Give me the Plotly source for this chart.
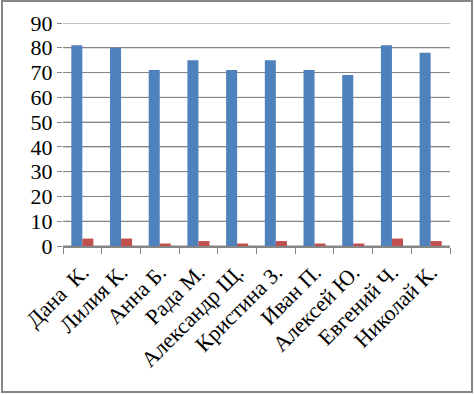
import plotly.graph_objects as go

names = ["Дана  К.", "Лилия К.", "Анна Б.", "Рада М.", "Александр Щ.", "Кристина З.",
         "Иван П.", "Алексей Ю.", "Евгений Ч.", "Николай К."]
series1 = [81, 80, 71, 75, 71, 75, 71, 69, 81, 78]
series2 = [3, 3, 1, 2, 1, 2, 1, 1, 3, 2]
yticks = [0, 10, 20, 30, 40, 50, 60, 70, 80, 90]

W, H = 475, 395
L, R, T, B = 63, 25, 23, 149
pw, ph = W - L - R, H - T - B
GREY = "#868686"

fig = go.Figure()
fig.add_trace(go.Bar(x=names, y=series1, marker=dict(color="#4F81BD", line=dict(width=0)), name="Ряд 1"))
fig.add_trace(go.Bar(x=names, y=series2, marker=dict(color="#C0504D", line=dict(width=0)), name="Ряд 2"))

def px(x):
    return (x - L) / pw

def py(y):
    return (H - B - y) / ph

# horizontal gridlines at the y tick values
for v in yticks:
    fig.add_shape(type="line", xref="paper", yref="y", x0=0, x1=1, y0=v, y1=v,
                  line=dict(color=GREY, width=1), layer="below")

fig.add_shape(type="rect", xref="paper", yref="paper",
              x0=px(2), x1=px(472), y0=py(392), y1=py(1),
              line=dict(color=GREY, width=2), fillcolor="rgba(0,0,0,0)")

fig.update_layout(
    template="none",
    width=W, height=H,
    margin=dict(l=L, r=R, t=T, b=B),
    paper_bgcolor="white", plot_bgcolor="rgba(0,0,0,0)",
    barmode="group", bargap=0.43, bargroupgap=0,
    showlegend=False,
    font=dict(family="Liberation Serif", size=22, color="black"),
)
fig.update_yaxes(range=[0, 90], tickmode="array", tickvals=yticks,
                 showgrid=True, gridcolor=GREY, gridwidth=1,
                 ticks="outside", ticklen=5, tickcolor=GREY, showline=False,
                 zeroline=False, ticksuffix="\u00a0\u00a0\u00a0")
fig.update_xaxes(showline=True, linecolor=GREY, linewidth=1.5, ticks="outside",
                 tickson="boundaries", ticklen=6, tickcolor=GREY, tickangle=-45,
                 showgrid=False, ticklabelstandoff=3)

fig.write_html("out.html")
